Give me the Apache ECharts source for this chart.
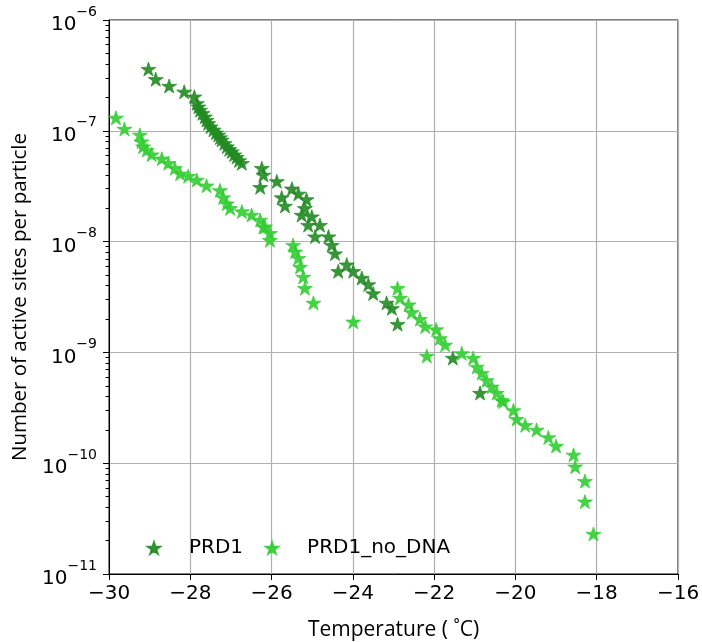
<!DOCTYPE html>
<html>
<head>
<meta charset="utf-8">
<script src="https://cdn.jsdelivr.net/npm/echarts@6/dist/echarts.min.js"></script>
<style>html,body{margin:0;padding:0;background:#fff}#c{width:702px;height:642px}</style>
</head>
<body>
<div id="c"></div>
<script>
// ---- data ----
var seriesNames = ['PRD1', 'PRD1_no_DNA'];
var prd1X = [-29.03,-28.85,-28.52,-28.15,-27.90,-27.84,-27.80,-27.76,-27.70,-27.64,-27.60,-27.56,-27.50,-27.43,-27.37,-27.31,-27.27,-27.23,-27.16,-27.10,-27.04,-26.98,-26.92,-26.86,-26.80,-26.73,
  -26.24,-26.20,-26.28,-25.87,-25.50,-25.34,-25.75,-25.67,-25.14,-25.18,-25.26,-25.01,-25.10,-24.81,-24.93,-24.60,-24.52,-24.44,-24.36,-24.15,-23.99,-23.78,-23.62,-23.50,-23.17,-23.04,-22.90,-21.54,-20.87];
var prd1Y = [3.61e-7,2.92e-7,2.54e-7,2.25e-7,2.03e-7,1.77e-7,1.65e-7,1.54e-7,1.44e-7,1.34e-7,1.25e-7,1.17e-7,1.09e-7,1.02e-7,9.6e-8,9.2e-8,8.7e-8,8.3e-8,7.7e-8,7.2e-8,6.8e-8,6.5e-8,6.1e-8,5.8e-8,5.4e-8,5.1e-8,
  4.6e-8,4.0e-8,3.1e-8,3.5e-8,3.0e-8,2.7e-8,2.5e-8,2.1e-8,2.4e-8,2.0e-8,1.74e-8,1.68e-8,1.41e-8,1.41e-8,1.11e-8,1.11e-8,9.3e-9,7.8e-9,5.4e-9,6.2e-9,5.4e-9,4.7e-9,4.1e-9,3.4e-9,2.8e-9,2.5e-9,1.8e-9,8.9e-10,4.3e-10];
var noDnaX = [-29.83,-29.62,-29.24,-29.20,-29.16,-29.07,-28.95,-28.70,-28.54,-28.38,-28.25,-28.05,-27.84,-27.60,-27.27,-27.19,-27.10,-27.02,-26.73,-26.49,-26.28,-26.20,-26.16,-26.04,-26.04,
  -25.47,-25.42,-25.34,-25.30,-25.22,-25.18,-24.97,-23.99,-22.90,-22.84,-22.63,-22.55,-22.35,-22.22,-22.18,-21.95,-21.86,-21.73,-21.32,-21.04,-20.95,-20.83,-20.71,-20.58,-20.46,-20.34,-20.30,
  -20.05,-19.97,-19.76,-19.48,-19.19,-19.00,-18.57,-18.53,-18.29,-18.29,-18.08];
var noDnaY = [1.31e-7,1.04e-7,9.2e-8,8.0e-8,7.2e-8,6.7e-8,6.1e-8,5.6e-8,5.1e-8,4.6e-8,4.1e-8,3.9e-8,3.6e-8,3.2e-8,2.9e-8,2.5e-8,2.2e-8,2.0e-8,1.87e-8,1.74e-8,1.57e-8,1.36e-8,1.36e-8,1.19e-8,1.03e-8,
  9.3e-9,8.1e-9,7.1e-9,5.9e-9,4.8e-9,3.8e-9,2.8e-9,1.89e-9,3.8e-9,3.1e-9,2.7e-9,2.3e-9,2.0e-9,1.71e-9,9.3e-10,1.61e-9,1.34e-9,1.17e-9,9.8e-10,8.9e-10,7.4e-10,6.5e-10,5.6e-10,4.9e-10,4.3e-10,3.7e-10,3.6e-10,
  3.0e-10,2.5e-10,2.2e-10,2.0e-10,1.71e-10,1.43e-10,1.19e-10,9.3e-11,6.9e-11,4.5e-11,2.3e-11];
var xTicks = [-30,-28,-26,-24,-22,-20,-18,-16];
var yMajorTicks = [1e-11,1e-10,1e-9,1e-8,1e-7,1e-6];
var xTitle = 'Temperature ( \u02DAC)';
var yTitle = 'Number of active sites per particle';

// ---- build ----
var minorTicks = [];
for (var d = 0; d < yMajorTicks.length - 1; d++) {
  for (var m = 2; m <= 9; m++) minorTicks.push(+(m * yMajorTicks[d]).toPrecision(3));
}
function zip(xs, ys) { return xs.map(function (x, i) { return [x, ys[i]]; }); }
var STAR = 'path://M0,-1L0.2245,-0.309L0.9511,-0.309L0.3633,0.118L0.5878,0.809L0,0.382L-0.5878,0.809L-0.3633,0.118L-0.9511,-0.309L-0.2245,-0.309Z';
var colors = ['#228B22', '#32CD32'];
var minus = function (v) { return v < 0 ? '\u2212' + Math.abs(v) : String(v); };

var chart = echarts.init(document.getElementById('c'), null, {renderer: 'canvas'});
chart.setOption({
  animation: false,
  backgroundColor: '#fff',
  grid: {left: 109, right: 24, top: 20, bottom: 68, outerBoundsMode: 'none', containLabel: false,
    show: true, borderColor: '#000', borderWidth: 1, backgroundColor: 'transparent'},
  legend: {
    left: 142, top: 533, itemGap: 22, itemWidth: 12, itemHeight: 12,
    textStyle: {fontFamily: 'DejaVu Sans', fontSize: 20, color: '#000', padding: [0, 0, 0, 24]},
    data: [{name: seriesNames[0], icon: STAR}, {name: seriesNames[1], icon: STAR}]
  },
  xAxis: {
    type: 'value', min: -30, max: -16, interval: 2,
    name: xTitle, nameLocation: 'middle', nameGap: 46,
    nameTextStyle: {fontFamily: 'Open Sans', fontSize: 21, color: '#000'},
    axisLine: {show: true, lineStyle: {color: '#000', width: 1}},
    axisTick: {show: true, inside: false, length: 6, lineStyle: {color: '#000'}, customValues: xTicks},
    axisLabel: {fontFamily: 'DejaVu Sans', fontSize: 20, color: '#000', margin: 10, formatter: minus, customValues: xTicks},
    splitLine: {show: true, lineStyle: {color: '#b0b0b0', width: 1.2}}
  },
  yAxis: [{
    type: 'log', logBase: 10, min: 1e-11, max: 1e-6,
    name: yTitle, nameLocation: 'middle', nameGap: 75,
    nameTextStyle: {fontFamily: 'Open Sans', fontSize: 20.5, color: '#000'},
    axisLine: {show: true, lineStyle: {color: '#000', width: 1}},
    axisTick: {show: true, length: 6, lineStyle: {color: '#000'}, customValues: yMajorTicks},
    axisLabel: {
      margin: 12, customValues: yMajorTicks,
      formatter: function (v) { var e = Math.round(Math.log10(v)); return '{b|10}{s|' + minus(e) + '}'; },
      rich: {
        b: {fontFamily: 'DejaVu Sans', fontSize: 20, color: '#000', verticalAlign: 'bottom', lineHeight: 30},
        s: {fontFamily: 'DejaVu Sans', fontSize: 14, color: '#000', verticalAlign: 'top', lineHeight: 30}
      }
    },
    splitLine: {show: true, lineStyle: {color: '#b0b0b0', width: 1.2}},
    minorTick: {show: false}
  }, {
    type: 'log', logBase: 10, min: 1e-11, max: 1e-6, position: 'left',
    axisLine: {show: false},
    axisTick: {show: true, length: 3.5, lineStyle: {color: '#000'}, customValues: minorTicks},
    axisLabel: {show: false},
    splitLine: {show: false}
  }],
  series: [{
    name: seriesNames[0], type: 'scatter', data: zip(prd1X, prd1Y),
    symbol: STAR, symbolSize: [15, 14],
    itemStyle: {color: colors[0], opacity: 0.9, borderColor: colors[0], borderWidth: 0.8}
  }, {
    name: seriesNames[1], type: 'scatter', data: zip(noDnaX, noDnaY),
    symbol: STAR, symbolSize: [15, 14],
    itemStyle: {color: colors[1], opacity: 0.9, borderColor: colors[1], borderWidth: 0.8}
  }]
});
</script>
</body>
</html>
